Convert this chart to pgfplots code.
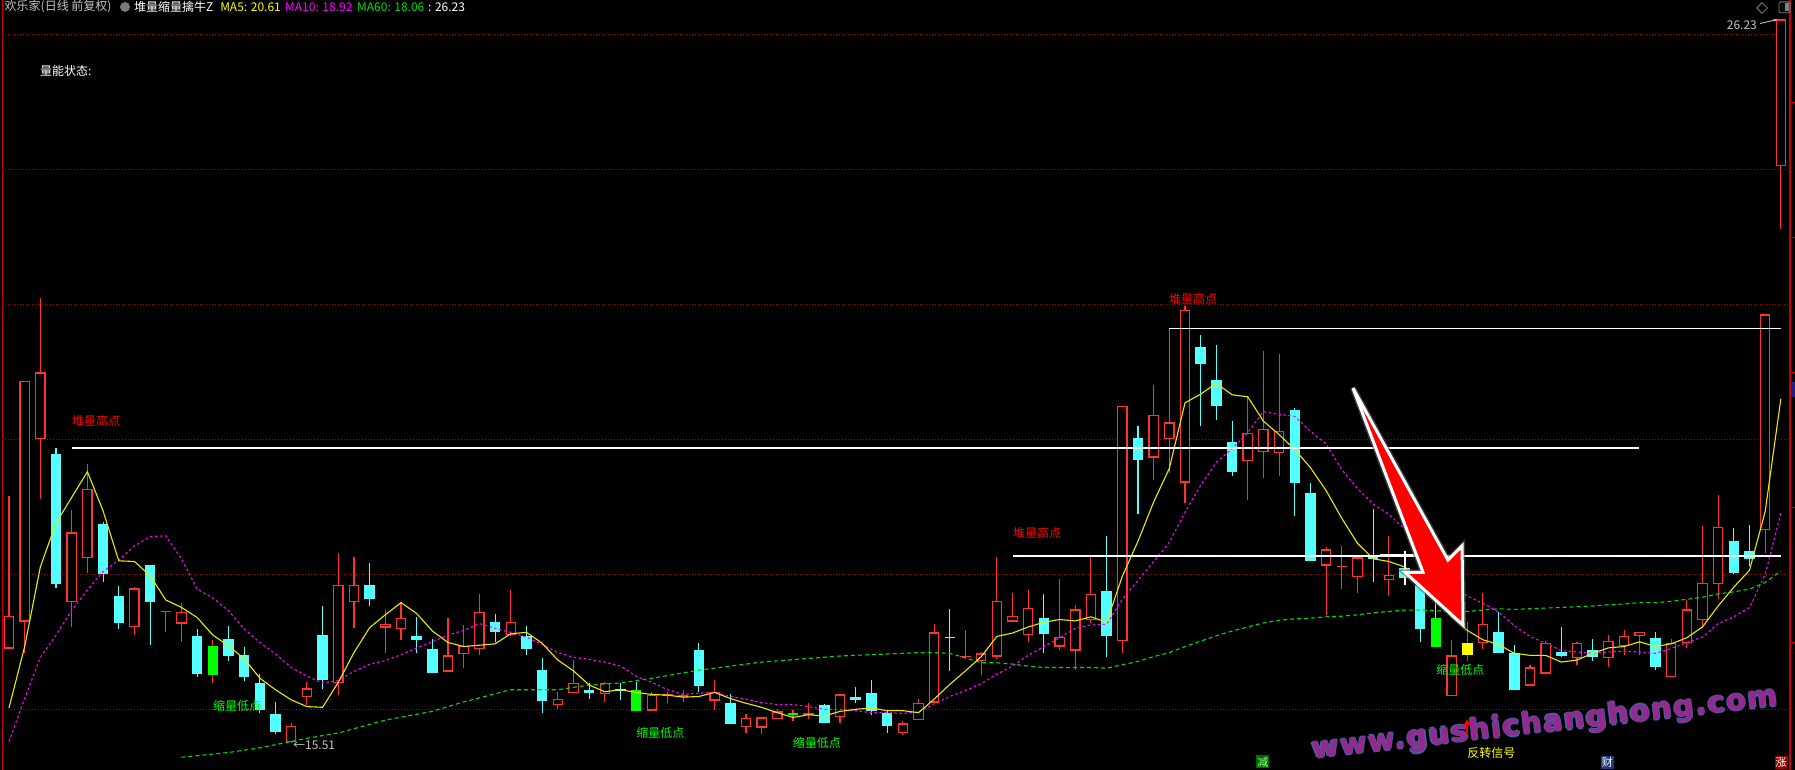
\documentclass[border=0pt]{standalone}
\usepackage{pgfplots}
\pgfplotsset{compat=1.18}
\usepackage{pgfplotstable}
\usepackage{fontspec}
\setmainfont{Noto Sans CJK SC}
\newfontfamily\wmfont{DejaVu Sans}[LetterSpace=5]
\usetikzlibrary{arrows.meta,shapes.geometric}

\definecolor{kred}{RGB}{255,50,50}
\definecolor{kcyan}{RGB}{84,255,255}
\definecolor{kgreen}{RGB}{0,255,0}
\definecolor{kyellow}{RGB}{255,255,0}
\definecolor{ma5c}{RGB}{235,235,0}
\definecolor{ma10c}{RGB}{255,0,255}
\definecolor{ma60c}{RGB}{0,220,0}
\definecolor{gridred}{RGB}{175,0,0}
\definecolor{axred}{RGB}{200,0,0}
\definecolor{wmpurple}{RGB}{148,40,140}
\definecolor{wmedge}{RGB}{85,85,160}
\definecolor{txtgray}{RGB}{195,195,195}
\definecolor{boxgreen}{RGB}{0,105,0}
\definecolor{boxgreentxt}{RGB}{150,255,150}
\definecolor{boxblue}{RGB}{30,60,125}
\definecolor{boxred}{RGB}{150,0,0}
\definecolor{navy2}{RGB}{30,30,140}
\definecolor{icongray}{RGB}{120,120,120}
\definecolor{glow}{RGB}{90,90,90}

% up candles (red hollow): x open high low close
\pgfplotstableread{
x o h l c
1 16.91 19.17 16.91 17.39
2 17.31 20.87 16.85 20.87
3 20.01 22.10 19.12 21.00
5 17.60 18.96 17.23 18.63
6 18.25 19.65 18.03 19.27
9 17.23 17.82 17.11 17.80
11 17.45 17.47 17.15 17.47
12 17.28 17.58 17.01 17.45
19 15.53 15.80 15.51 15.77
20 16.19 16.42 16.07 16.32
22 16.40 18.32 16.22 17.85
23 17.60 18.27 17.21 17.85
25 17.22 17.48 16.84 17.27
26 17.20 17.60 17.03 17.36
29 16.57 17.36 16.57 16.81
30 16.83 17.26 16.62 16.95
31 16.90 17.72 16.81 17.45
33 17.11 17.78 17.10 17.30
36 16.07 16.26 16.01 16.17
37 16.25 16.74 16.25 16.40
39 16.23 16.42 16.12 16.40
42 15.99 16.27 15.99 16.22
43 16.21 16.27 16.11 16.23
44 16.19 16.30 16.12 16.22
46 16.14 16.45 16.00 16.27
48 15.75 15.94 15.66 15.88
49 15.74 15.89 15.65 15.89
50 15.86 16.01 15.86 15.98
52 15.93 16.10 15.86 15.95
54 15.89 16.23 15.81 16.23
58 15.66 15.83 15.63 15.80
59 15.85 16.17 15.85 16.11
60 16.11 17.27 16.11 17.15
62 16.78 17.19 16.75 16.80
63 16.72 16.86 16.52 16.84
64 16.79 18.26 16.75 17.62
65 17.31 17.74 17.31 17.39
66 17.11 17.78 17.00 17.51
68 16.94 17.94 16.89 17.08
69 16.88 17.56 16.59 17.49
70 17.33 18.27 17.29 17.72
72 17.02 20.50 16.85 20.50
74 19.74 20.82 19.40 20.37
75 20.01 21.65 19.51 20.26
76 19.37 21.99 19.06 21.93
80 19.69 20.64 19.11 20.10
81 19.82 21.32 19.44 20.16
82 19.80 21.28 19.46 20.13
85 18.14 18.42 17.40 18.38
86 18.12 18.43 17.79 18.14
87 17.97 18.27 17.74 18.26
89 17.93 18.58 17.69 18.00
93 16.20 17.04 16.20 16.81
95 16.99 17.74 16.90 17.27
98 16.36 16.67 16.36 16.63
99 16.54 17.02 16.54 16.99
101 16.77 17.01 16.67 16.99
103 16.77 17.11 16.63 17.02
104 16.95 17.19 16.81 17.10
105 17.09 17.16 16.81 17.16
107 16.49 17.05 16.49 16.99
108 16.99 17.63 16.92 17.49
109 17.33 18.73 17.21 17.88
110 17.87 19.19 17.64 18.71
113 18.67 21.86 18.33 21.86
114 24.06 26.23 23.12 26.23
}\up

% down candles (cyan filled)
\pgfplotstableread{
x o h l c
4 19.79 19.88 17.80 17.86
7 18.76 18.79 17.90 18.01
8 17.69 17.84 17.20 17.29
10 18.15 18.15 16.96 17.60
13 17.10 17.20 16.49 16.53
15 17.05 17.24 16.73 16.80
16 16.81 16.93 16.43 16.49
17 16.40 16.54 15.95 16.00
18 15.94 16.12 15.64 15.67
21 17.11 17.54 16.31 16.45
24 17.85 18.18 17.54 17.64
27 17.10 17.38 16.85 17.03
28 16.90 17.05 16.55 16.55
32 17.30 17.42 17.01 17.16
34 17.10 17.24 16.81 16.91
35 16.59 16.77 15.95 16.14
38 16.30 16.40 16.16 16.25
40 16.31 16.40 16.15 16.28
45 16.89 16.99 16.27 16.36
47 16.10 16.23 15.79 15.79
53 16.07 16.09 15.80 15.81
55 16.19 16.34 16.10 16.15
56 16.25 16.44 15.92 15.99
57 15.95 16.00 15.66 15.77
61 17.08 17.49 16.58 17.06
67 17.36 17.72 16.85 17.12
71 17.76 18.58 16.78 17.09
73 20.03 20.20 18.91 19.70
77 21.38 21.56 20.20 21.12
78 20.89 21.41 20.30 20.51
79 19.97 20.28 19.47 19.52
83 20.44 20.48 18.88 19.37
84 19.21 19.36 18.20 18.20
88 18.27 18.98 17.90 18.24
90 18.10 18.34 17.85 17.95
91 17.85 17.95 17.00 17.20
96 17.15 17.45 16.85 16.85
97 16.84 16.97 16.29 16.29
100 16.86 17.23 16.79 16.80
102 16.89 17.05 16.73 16.78
106 17.06 17.15 16.59 16.63
111 18.50 18.69 18.01 18.03
112 18.35 18.74 18.13 18.23
}\down

% signal candles
\pgfplotstableread{
x o h l c
14 16.95 17.04 16.40 16.52
51 15.96 16.00 15.83 15.93
}\grR
\pgfplotstableread{
x o h l c
41 16.30 16.42 15.99 15.99
92 17.36 17.60 16.94 16.94
}\grC
\pgfplotstableread{
x o h l c
94 16.81 17.31 16.72 16.99
}\yel

\pgfplotstableread{
x v
1 16.03
2 16.94
3 18.12
4 18.77
5 19.15
6 19.53
7 18.95
8 18.21
9 18.20
10 17.99
11 17.63
12 17.52
13 17.37
14 17.11
15 16.95
16 16.76
17 16.47
18 16.30
19 16.15
20 16.05
21 16.04
22 16.41
23 16.85
24 17.22
25 17.41
26 17.59
27 17.43
28 17.17
29 17.00
30 16.94
31 16.96
32 16.98
33 17.13
34 17.15
35 16.99
36 16.74
37 16.58
38 16.37
39 16.27
40 16.30
41 16.26
42 16.23
43 16.22
44 16.19
45 16.20
46 16.26
47 16.17
48 16.10
49 16.04
50 15.96
51 15.89
52 15.93
53 15.91
54 15.98
55 16.01
56 16.03
57 15.99
58 15.99
59 15.96
60 16.16
61 16.38
62 16.58
63 16.79
64 17.09
65 17.14
66 17.23
67 17.30
68 17.34
69 17.32
70 17.38
71 17.30
72 17.98
73 18.50
74 19.08
75 19.58
76 20.55
77 20.68
78 20.84
79 20.67
80 20.64
81 20.28
82 20.08
83 19.86
84 19.59
85 19.25
86 18.84
87 18.47
88 18.24
89 18.20
90 18.12
91 17.93
92 17.67
93 17.38
94 17.18
95 17.04
96 16.97
97 16.84
98 16.81
99 16.81
100 16.71
101 16.74
102 16.84
103 16.92
104 16.94
105 17.01
106 16.94
107 16.98
108 17.07
109 17.23
110 17.54
111 17.82
112 18.07
113 18.94
114 20.61
}\mafive

\pgfplotstableread{
x v
1 15.53
2 16.17
3 16.78
4 17.11
5 17.48
6 17.78
7 18.05
8 18.22
9 18.43
10 18.57
11 18.58
12 18.24
13 17.79
14 17.66
15 17.47
16 17.20
17 17.00
18 16.83
19 16.63
20 16.50
21 16.40
22 16.44
23 16.57
24 16.68
25 16.73
26 16.82
27 16.92
28 17.01
29 17.11
30 17.18
31 17.28
32 17.21
33 17.15
34 17.08
35 16.97
36 16.85
37 16.78
38 16.75
39 16.71
40 16.65
41 16.50
42 16.41
43 16.30
44 16.23
45 16.25
46 16.26
47 16.20
48 16.16
49 16.11
50 16.08
51 16.08
52 16.05
53 16.01
54 16.01
55 15.99
56 15.96
57 15.96
58 15.95
59 15.97
60 16.09
61 16.20
62 16.29
63 16.39
64 16.53
65 16.65
66 16.81
67 16.94
68 17.07
69 17.21
70 17.26
71 17.27
72 17.64
73 17.92
74 18.20
75 18.48
76 18.93
77 19.33
78 19.67
79 19.87
80 20.11
81 20.42
82 20.38
83 20.35
84 20.13
85 19.94
86 19.56
87 19.28
88 19.05
89 18.90
90 18.68
91 18.39
92 18.07
93 17.81
94 17.69
95 17.58
96 17.45
97 17.25
98 17.09
99 16.99
100 16.88
101 16.86
102 16.84
103 16.86
104 16.87
105 16.86
106 16.84
107 16.91
108 17.00
109 17.08
110 17.28
111 17.38
112 17.52
113 18.01
114 18.92
}\maten

\pgfplotstableread{
x v
12 15.30
15 15.37
17 15.44
20 15.58
22 15.66
25 15.85
28 15.98
30 16.12
33 16.30
36 16.30
38 16.37
40 16.40
42 16.47
45 16.59
49 16.71
54 16.80
57 16.83
59 16.85
60 16.85
61 16.84
62 16.77
63 16.70
64 16.70
65 16.68
66 16.65
67 16.63
68 16.63
69 16.63
70 16.63
71 16.62
72 16.67
73 16.72
74 16.79
75 16.85
76 16.94
77 17.02
78 17.10
79 17.17
80 17.23
81 17.29
82 17.33
83 17.35
84 17.36
85 17.38
86 17.39
87 17.41
88 17.44
89 17.46
90 17.48
91 17.48
92 17.47
93 17.46
94 17.46
95 17.48
96 17.50
97 17.49
98 17.50
99 17.51
100 17.52
101 17.53
102 17.54
103 17.56
104 17.57
105 17.59
106 17.59
107 17.61
108 17.64
109 17.67
110 17.72
111 17.75
112 17.79
113 17.89
114 18.06
}\masixty

\pgfplotsset{
  wick/.style={draw=none, mark=none, forget plot,
    /pgfplots/error bars/y dir=plus,
    /pgfplots/error bars/y explicit,
    /pgfplots/error bars/error mark=none,
    /pgfplots/error bars/error bar style={draw=#1, line width=1.1pt, solid}},
  body/.style={draw=none, mark=none, forget plot,
    /pgfplots/error bars/y dir=plus,
    /pgfplots/error bars/y explicit,
    /pgfplots/error bars/error mark=none,
    /pgfplots/error bars/error bar style={draw=#1, line width=10.5pt, solid, line cap=butt}},
  hole/.style={draw=none, mark=none, forget plot,
    /pgfplots/error bars/y dir=plus,
    /pgfplots/error bars/y explicit,
    /pgfplots/error bars/error mark=none,
    /pgfplots/error bars/error bar style={draw=black, line width=8.1pt, solid, line cap=butt}},
}
\newcommand{\fs}{\fontsize{12}{12}\selectfont}
\newcommand{\wmf}{\wmfont\bfseries\fontsize{29}{29}\selectfont}

\begin{document}
\begin{tikzpicture}
\fill[black] (0,0) rectangle (1795pt,770pt);
\begin{axis}[
  at={(0,0)}, anchor=south west,
  width=1795pt, height=770pt, scale only axis,
  xmin=0.426, xmax=114.903, ymin=15.1111, ymax=26.5185,
  axis lines=none, clip=false,
]
% grid
\pgfplotsinvokeforeach{16,18,20,22,24,26}{
  \addplot[gridred, line width=1pt, dash pattern=on 1pt off 2pt, mark=none, forget plot]
    coordinates {(0.745,#1) (114.58,#1)};
}
% right axis ticks
\pgfplotsinvokeforeach{17,19,21,23,25}{
  \addplot[axred, line width=1pt, mark=none, forget plot]
    coordinates {(114.58,#1) (114.90,#1)};
}
% axis lines
\addplot[axred, line width=1.4pt, mark=none, forget plot] coordinates {(0.573,15.1111) (0.573,26.5185)};
\addplot[axred, line width=1.4pt, mark=none, forget plot] coordinates {(114.58,15.1111) (114.58,26.5185)};

% wicks
\addplot[wick=kred] table[x=x, y=l, y error expr={\thisrow{h}-\thisrow{l}}] {\up};
\addplot[wick=kcyan] table[x=x, y=l, y error expr={\thisrow{h}-\thisrow{l}}] {\down};
\addplot[wick=kred] table[x=x, y=l, y error expr={\thisrow{h}-\thisrow{l}}] {\grR};
\addplot[wick=kcyan] table[x=x, y=l, y error expr={\thisrow{h}-\thisrow{l}}] {\grC};
\addplot[wick=kred] table[x=x, y=l, y error expr={\thisrow{h}-\thisrow{l}}] {\yel};
% bodies
\addplot[body=kred] table[x=x, y expr={min(\thisrow{o},\thisrow{c})}, y error expr={abs(\thisrow{c}-\thisrow{o})}] {\up};
\addplot[hole] table[x=x, y expr={min(\thisrow{o},\thisrow{c})+0.018}, y error expr={max(abs(\thisrow{c}-\thisrow{o})-0.036,0)}] {\up};
\addplot[body=kcyan] table[x=x, y expr={min(\thisrow{o},\thisrow{c})}, y error expr={abs(\thisrow{c}-\thisrow{o})}] {\down};
\addplot[body=kgreen] table[x=x, y expr={min(\thisrow{o},\thisrow{c})}, y error expr={abs(\thisrow{c}-\thisrow{o})}] {\grR};
\addplot[body=kgreen] table[x=x, y expr={min(\thisrow{o},\thisrow{c})}, y error expr={abs(\thisrow{c}-\thisrow{o})}] {\grC};
\addplot[body=kyellow] table[x=x, y expr={min(\thisrow{o},\thisrow{c})}, y error expr={abs(\thisrow{c}-\thisrow{o})}] {\yel};

% moving averages
\addplot[ma60c, line width=1.1pt, dash pattern=on 4pt off 3pt, mark=none] table[x=x, y=v] {\masixty};
\addplot[ma10c, line width=1.1pt, dash pattern=on 2.5pt off 2.5pt, mark=none] table[x=x, y=v] {\maten};
\addplot[ma5c, line width=1.1pt, mark=none] table[x=x, y=v] {\mafive};

% high-volume levels
\addplot[white, line width=1.3pt, mark=none] coordinates {(5.02,19.88) (104.95,19.88)};
\addplot[white, line width=1.3pt, mark=none] coordinates {(65.03,18.28) (114.0,18.28)};
\addplot[white, line width=1.3pt, mark=none] coordinates {(74.98,21.65) (114.0,21.65)};

% cursor cross
\addplot[white, line width=1.1pt, mark=none] coordinates {(88.44,18.30) (90.80,18.30)};
\addplot[white, line width=1.1pt, mark=none] coordinates {(90.03,18.35) (90.03,17.85)};

% labels
\node[anchor=west, inner sep=0, text=red, font=\fs] at (axis cs:5.02,20.28) {堆量高点};
\node[anchor=west, inner sep=0, text=red, font=\fs] at (axis cs:65.03,18.63) {堆量高点};
\node[anchor=west, inner sep=0, text=red, font=\fs] at (axis cs:74.98,22.09) {堆量高点};
\node[anchor=west, inner sep=0, text=kgreen, font=\fs] at (axis cs:14.01,16.06) {缩量低点};
\node[anchor=west, inner sep=0, text=kgreen, font=\fs] at (axis cs:40.99,15.66) {缩量低点};
\node[anchor=west, inner sep=0, text=kgreen, font=\fs] at (axis cs:50.98,15.51) {缩量低点};
\node[anchor=west, inner sep=0, text=kgreen, font=\fs] at (axis cs:92.01,16.59) {缩量低点};
\node[anchor=west, inner sep=0, text=txtgray, font=\fs] at (axis cs:19.11,15.47) {←15.51};

% watermark
\node[rotate=6.5, text=wmedge, font=\wmf, xshift=1.3pt] at (axis cs:98.96,15.79) {www.gushichanghong.com};
\node[rotate=6.5, text=wmedge, font=\wmf, xshift=-1.3pt] at (axis cs:98.96,15.79) {www.gushichanghong.com};
\node[rotate=6.5, text=wmedge, font=\wmf, yshift=1.3pt] at (axis cs:98.96,15.79) {www.gushichanghong.com};
\node[rotate=6.5, text=wmedge, font=\wmf, yshift=-1.3pt] at (axis cs:98.96,15.79) {www.gushichanghong.com};
\node[rotate=6.5, text=wmpurple, font=\wmf] at (axis cs:98.96,15.79) {www.gushichanghong.com};

% reversal signal
\draw[red, line width=2.2pt, -{Triangle[width=8pt,length=6pt]}] (axis cs:94,15.66) -- (axis cs:94,15.86);
\node[anchor=west, inner sep=0, text=kyellow, font=\fs] at (axis cs:93.99,15.37) {反转信号};

% big arrow (glow, outline, fill)
\draw[glow, line width=6pt, line join=miter, opacity=0.6]
  (axis cs:86.71,20.77) -- (axis cs:92.77,18.22) -- (axis cs:93.67,18.43) -- (axis cs:93.73,17.26)
  -- (axis cs:90.03,18.04) -- (axis cs:91.18,18.04) -- cycle;
\fill[fill=red, draw=white, line width=3pt, line join=miter]
  (axis cs:86.71,20.77) -- (axis cs:92.77,18.22) -- (axis cs:93.67,18.43) -- (axis cs:93.73,17.26)
  -- (axis cs:90.03,18.04) -- (axis cs:91.18,18.04) -- cycle;

% bottom markers
\node[fill=boxgreen, text=boxgreentxt, inner sep=0.5pt, minimum size=13pt, font=\fontsize{11}{11}\selectfont] at (axis cs:80.97,15.23) {减};
\node[fill=boxblue, text=white, inner sep=0.5pt, minimum size=13pt, font=\fontsize{11}{11}\selectfont] at (axis cs:102.94,15.22) {财};
\node[fill=boxred, text=white, inner sep=0.5pt, minimum size=13pt, font=\fontsize{11}{11}\selectfont] at (axis cs:114.01,15.22) {涨};
\fill[fill=navy2] (axis cs:114.62,20.86) rectangle (axis cs:114.903,20.64);

% top-right
\node[anchor=east, inner sep=0, text=txtgray, font=\fs] at (axis cs:112.48,26.15) {26.23};
\draw[txtgray, line width=0.9pt, -{Stealth[length=4pt]}] (axis cs:112.67,26.17) -- (axis cs:113.78,26.23);
\node[diamond, draw=gray, line width=0.8pt, minimum size=11pt, inner sep=0] at (axis cs:112.80,26.40) {};
\draw[gray, line width=0.9pt, rounded corners=1.5pt] (axis cs:113.88,26.49) rectangle (axis cs:114.60,26.33);
\fill[fill=gray] (axis cs:114.24,26.47) rectangle (axis cs:114.54,26.35);

% title bar
\node[anchor=west, inner sep=0, text=txtgray, font=\fs] at (axis cs:0.713,26.415) {欢乐家(日线 前复权)};
\node[circle, fill=icongray, minimum size=10pt, inner sep=0] at (axis cs:8.398,26.415) {};
\node[anchor=west, inner sep=0, text=white, font=\fs] at (axis cs:8.97,26.415) {堆量缩量擒牛Z};
\node[anchor=west, inner sep=0, text=kyellow, font=\fs] at (axis cs:14.46,26.415) {MA5: 20.61};
\node[anchor=west, inner sep=0, text=ma10c, font=\fs] at (axis cs:18.60,26.415) {MA10: 18.92};
\node[anchor=west, inner sep=0, text=ma60c, font=\fs] at (axis cs:23.19,26.415) {MA60: 18.06};
\node[anchor=west, inner sep=0, text=white, font=\fs] at (axis cs:27.72,26.415) {: 26.23};
\node[anchor=west, inner sep=0, text=white, font=\fs] at (axis cs:2.98,25.467) {量能状态:};
\end{axis}
\pgfresetboundingbox
\useasboundingbox (0,0) rectangle (1795pt,770pt);
\end{tikzpicture}
\end{document}
